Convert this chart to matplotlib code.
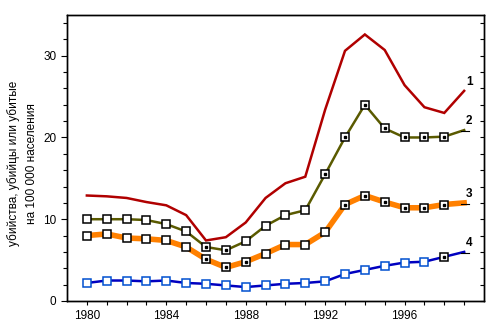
import numpy as np
import matplotlib.pyplot as plt

plt.rcParams['font.family'] = ['Liberation Sans', 'DejaVu Sans']

years = np.arange(1980, 2000)

# 1 - убийства
s1 = [12.9, 12.8, 12.6, 12.1, 11.7, 10.5, 7.4, 7.8, 9.6, 12.6,
      14.4, 15.2, 23.4, 30.6, 32.6, 30.7, 26.4, 23.7, 23.0, 25.7]
# 2
s2 = [10.0, 10.0, 10.0, 9.9, 9.4, 8.5, 6.6, 6.2, 7.3, 9.2,
      10.5, 11.1, 15.5, 20.0, 24.0, 21.1, 20.0, 20.0, 20.1, 20.9]
s2_dot = [1986, 1987, 1992, 1993, 1994, 1995, 1996, 1997, 1998]
# 3
s3 = [8.0, 8.2, 7.7, 7.6, 7.4, 6.6, 5.1, 4.1, 4.8, 5.8,
      6.9, 6.9, 8.4, 11.8, 12.9, 12.1, 11.4, 11.4, 11.8, 12.0]
s3_dot = [1986, 1987, 1988, 1993, 1994, 1995, 1996, 1997, 1998]
# 4
s4 = [2.2, 2.5, 2.5, 2.4, 2.5, 2.2, 2.1, 1.9, 1.7, 1.9,
      2.1, 2.2, 2.4, 3.3, 3.8, 4.3, 4.7, 4.8, 5.4, 6.0]
s4_dot = [1998]

labels = ['1', '2', '3', '4']
colors = ['#b00000', '#5a5a00', '#ff8000', '#0000c0']
widths = [1.8, 1.8, 4.0, 1.8]

fig = plt.figure(figsize=(5, 3.3), dpi=100)
ax = fig.add_axes([0.134, 0.088, 0.834, 0.867])

series = [s1, s2, s3, s4]
dots = [None, s2_dot, s3_dot, s4_dot]
for vals, dot, col, lw, lab in zip(series, dots, colors, widths, labels):
    vals = np.array(vals)
    ax.plot(years, vals, color=col, lw=lw, solid_joinstyle='miter', zorder=2)
    if dot is not None:
        mk = years[:-1]
        edge = '#0050d0' if lab == '4' else 'black'
        for yr, v in zip(mk, vals[:-1]):
            e = 'black' if yr in dot else edge
            ax.plot(yr, v, 's', ms=5.2, mfc='white', mec=e, mew=1.1, zorder=3)
            if yr in dot:
                ax.plot(yr, v, 's', ms=2, color='black', zorder=4)
        # short dash at the end of the line
        ax.plot([years[-1] - 0.15, years[-1] + 0.25], [vals[-1] - 0.1] * 2,
                color='black', lw=0.8, zorder=4)
    ax.annotate(lab, (years[-1], vals[-1]), xytext=(5, 9),
                textcoords='offset pixels', ha='center', va='center',
                fontsize=8.5, fontweight='bold')

ax.set_xlim(1979, 2000)
ax.set_ylim(0, 35)
ax.set_xticks([1980, 1984, 1988, 1992, 1996])
ax.set_xticks(np.arange(1980, 2000), minor=True)
ax.set_yticks([0, 10, 20, 30])
ax.set_yticks(np.arange(0, 35, 2), minor=True)
ax.tick_params(which='both', direction='out', labelsize=8.5, width=0.8)
ax.tick_params(axis='y', which='both', length=3)
ax.tick_params(axis='y', which='major', length=4)
ax.tick_params(axis='x', which='both', length=3)
# inner ticks on the right side
ax2 = ax.twinx()
ax2.set_ylim(ax.get_ylim())
ax2.set_yticks(np.arange(0, 35, 2))
ax2.tick_params(axis='y', direction='in', length=3, width=0.8, labelright=False)
for a in (ax, ax2):
    for sp in a.spines.values():
        sp.set_linewidth(1.0)

ax.set_ylabel('убийства, убийцы или убитые\nна 100 000 населения',
              fontsize=8.5, linespacing=1.6)
ax.yaxis.set_label_coords(-0.07, 0.48)

fig.savefig('out.png', dpi=100)
